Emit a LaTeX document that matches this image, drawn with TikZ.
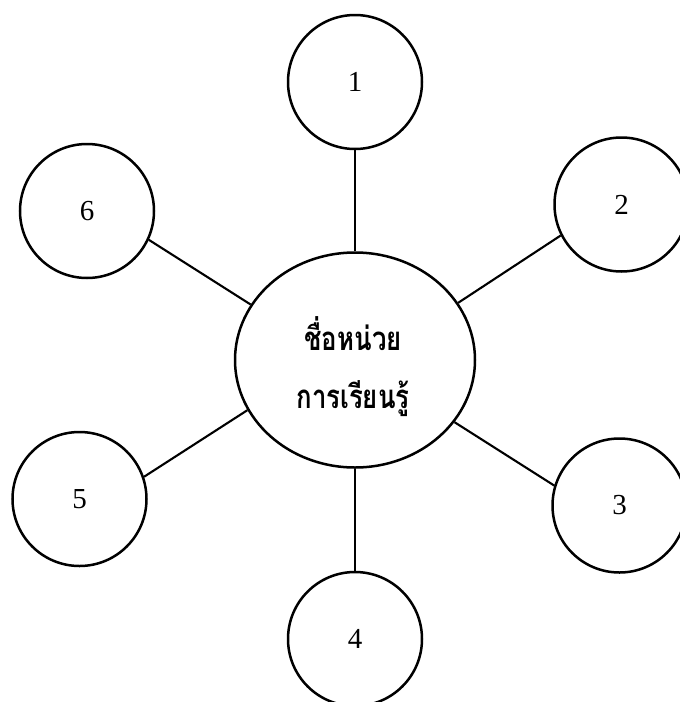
\documentclass[tikz,border=0pt]{standalone}
\usepackage{fontspec}
\setmainfont{Liberation Serif}
\newfontfamily\thaifont[Script=Thai, FakeStretch=0.78]{Loma}
\usetikzlibrary{shapes.geometric}

\begin{document}
\begin{tikzpicture}[x=1pt,y=-1pt,
  topic/.style={circle, draw, line width=2.5pt, minimum size=134pt, inner sep=0pt,
    font=\fontsize{29}{29}\selectfont},
  unit/.style={ellipse, draw, line width=2.5pt, minimum width=240pt, minimum height=215pt,
    inner sep=0pt},
  unitname/.style={align=center, inner sep=0pt,
    font=\thaifont\bfseries\fontsize{33}{58}\selectfont},
  spoke/.style={line width=2.1pt}]
\useasboundingbox (0,0) rectangle (680,702);
\node[unit] (u) at (355,360) {};
\node[unitname] (un) at (353,367) {ชื่อหน่วย\\การเรียนรู้};
\node[topic] (t1) at (355,82) {1};
\node[topic] (t2) at (621.5,204.5) {2};
\node[topic] (t3) at (619.5,505.5) {3};
\node[topic] (t4) at (355,639) {4};
\node[topic] (t5) at (79.5,499) {5};
\node[topic] (t6) at (87,211) {6};
\draw[spoke] (u.north) -- (t1.south);
\draw[spoke] (u.29.8) -- (t2.207.5);
\draw[spoke] (u.-32.7) -- (t3.163.7);
\draw[spoke] (u.south) -- (t4.north);
\draw[spoke] (u.205.9) -- (t5.19.9);
\draw[spoke] (u.152.4) -- (t6.-25.5);
\end{tikzpicture}
\end{document}
